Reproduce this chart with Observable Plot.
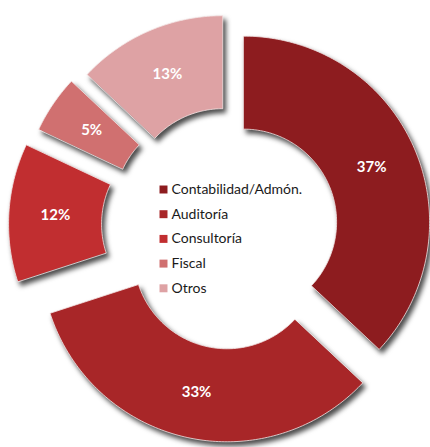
<!DOCTYPE html>
<html>
<head>
<meta charset="utf-8">
<script src="https://cdn.jsdelivr.net/npm/d3@7"></script>
<script src="https://cdn.jsdelivr.net/npm/@observablehq/plot@0.6"></script>
<style>
  html, body { margin: 0; padding: 0; background: #fff; }
  #chart svg [aria-label="line"] path {
    filter: drop-shadow(3px 4px 2.5px rgba(0,0,0,0.7));
  }
</style>
</head>
<body>
<div id="chart"></div>
<script>
// ---- data ----
const categories = ["Contabilidad/Admón.", "Auditoría", "Consultoría", "Fiscal", "Otros"];
const values = [37, 33, 12, 5, 13];
const labels = ["37%", "33%", "12%", "5%", "13%"];
const colors = ["#8d1c1f", "#a82628", "#c12e30", "#d07070", "#dea2a4"];

// ---- layout ----
const W = 430, H = 447;
const center = {x: 233, y: 226};
const rInner = 93, rOuter = 186;
const explode = [11, 30, 39, 32, 27];

const arcs = d3.pie().sort(null).value(d => d)(values);

const slicePts = [];
const sliceInfo = [];
arcs.forEach((a, i) => {
  const mid = (a.startAngle + a.endAngle) / 2;
  const cx = center.x + explode[i] * Math.sin(mid);
  const cy = center.y - explode[i] * Math.cos(mid);
  const n = Math.max(8, Math.ceil((a.endAngle - a.startAngle) * 60));
  for (let k = 0; k <= n; k++) {
    const t = a.startAngle + (a.endAngle - a.startAngle) * k / n;
    slicePts.push({cat: categories[i], x: cx + rOuter * Math.sin(t), y: cy - rOuter * Math.cos(t)});
  }
  for (let k = n; k >= 0; k--) {
    const t = a.startAngle + (a.endAngle - a.startAngle) * k / n;
    slicePts.push({cat: categories[i], x: cx + rInner * Math.sin(t), y: cy - rInner * Math.cos(t)});
  }
  const rm = (rInner + rOuter) / 2;
  sliceInfo.push({cat: categories[i], label: labels[i], x: cx + rm * Math.sin(mid), y: cy - rm * Math.cos(mid)});
});

const legendData = categories.map((c, i) => ({cat: c, x: 163, y: 189 + i * 24.7}));

const font = "Lato, 'Open Sans', sans-serif";

const chart = Plot.plot({
  width: W,
  height: H,
  margin: 0,
  x: {domain: [0, W], axis: null},
  y: {domain: [H, 0], axis: null},
  color: {domain: categories, range: colors},
  style: {background: "#fff", fontFamily: font},
  marks: [
    Plot.line(slicePts, {x: "x", y: "y", z: "cat", fill: "cat", stroke: "#f4e6e6", strokeWidth: 0.8, curve: "linear-closed"}),
    Plot.text(sliceInfo, {x: "x", y: "y", text: "label", fill: "white", fontSize: 15, fontWeight: "bold", fontFamily: font}),
    Plot.dot(legendData, {x: "x", y: "y", fill: "cat", symbol: "square", r: 4.5}),
    Plot.text(legendData, {x: d => d.x + 8, y: "y", text: "cat", textAnchor: "start", fill: "#1a1a1a", fontSize: 14, fontFamily: font})
  ]
});
document.getElementById("chart").appendChild(chart);
</script>
</body>
</html>
